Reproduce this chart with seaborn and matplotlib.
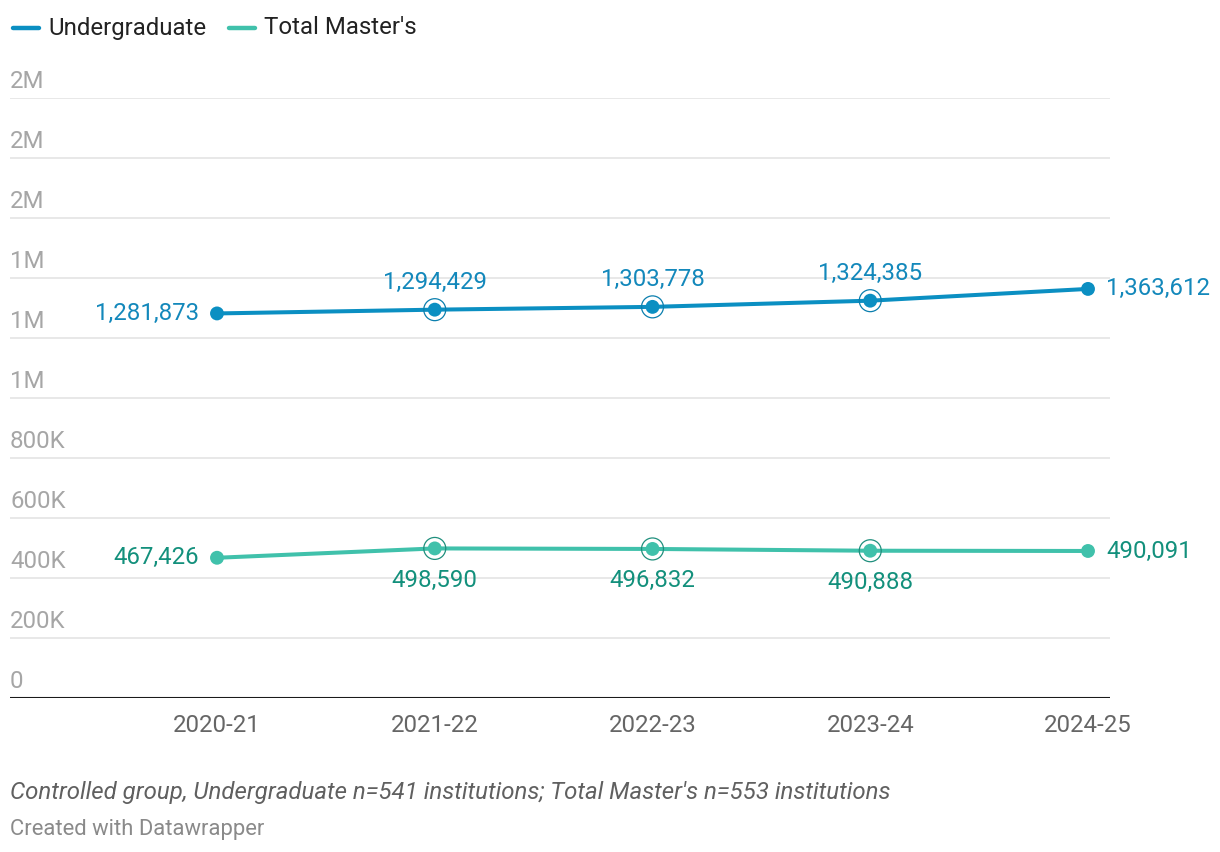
import matplotlib
matplotlib.use("Agg")
import matplotlib.pyplot as plt
import seaborn as sns
import pandas as pd
from matplotlib.transforms import offset_copy

years = ["2020-21", "2021-22", "2022-23", "2023-24", "2024-25"]
undergrad = [1281873, 1294429, 1303778, 1324385, 1363612]
masters = [467426, 498590, 496832, 490888, 490091]
series_names = ["Undergraduate", "Total Master's"]
y_ticks = [0, 200000, 400000, 600000, 800000, 1000000, 1200000, 1400000, 1600000, 1800000, 2000000]
y_tick_labels = ["0", "200K", "400K", "600K", "800K", "1M", "1M", "1M", "2M", "2M", "2M"]

sns.set_theme(style="white")
plt.rcParams['font.family'] = ['Roboto', 'DejaVu Sans']

line_colors = {"Undergraduate": "#0b8fc2", "Total Master's": "#40c1ab"}
ring_colors = {"Undergraduate": "#0b7fae", "Total Master's": "#1f8f7d"}
text_colors = {"Undergraduate": "#1388bb", "Total Master's": "#13907c"}

df = pd.DataFrame({
    "year": years * 2,
    "x": list(range(len(years))) * 2,
    "value": undergrad + masters,
    "series": [series_names[0]] * len(years) + [series_names[1]] * len(years),
})

fig = plt.figure(figsize=(12.2, 8.52), dpi=100)
W, H = 1220, 852
ax = fig.add_axes([10 / W, 154 / H, 1100 / W, 600 / H])

x0 = 217
dx = (1088 - 217) / 4
ax.set_xlim((10 - x0) / dx, 4 + (1110 - 1088) / dx)
ax.set_ylim(0, 2000000)

for t in y_ticks[1:]:
    ax.axhline(t, color="#e2e2e2", lw=1.1, zorder=0)
ax.axhline(0, color="#1a1a1a", lw=1.5, zorder=1)

sns.lineplot(data=df, x="x", y="value", hue="series", palette=line_colors,
             lw=2.9, ax=ax, legend=False, zorder=3)
sns.scatterplot(data=df, x="x", y="value", hue="series", palette=line_colors,
                s=100, linewidth=0, ax=ax, legend=False, zorder=4)
mid = df[df["x"].between(1, 3)]
for name in series_names:
    sub = mid[mid["series"] == name]
    ax.scatter(sub["x"], sub["value"], s=250, facecolors="none",
               edgecolors=ring_colors[name], linewidths=0.9, zorder=4)

FS = 17.3
for name, vals, above in [(series_names[0], undergrad, True), (series_names[1], masters, False)]:
    c = text_colors[name]
    for i, v in enumerate(vals):
        lab = f"{v:,}"
        if i == 0:
            ax.annotate(lab, (i, v), xytext=(-13, 0), textcoords="offset points",
                        ha="right", va="center", fontsize=FS, color=c)
        elif i == len(vals) - 1:
            ax.annotate(lab, (i, v), xytext=(13, 0), textcoords="offset points",
                        ha="left", va="center", fontsize=FS, color=c)
        else:
            ax.annotate(lab, (i, v), xytext=(0, 19.5 if above else -23), textcoords="offset points",
                        ha="center", va="center", fontsize=FS, color=c, zorder=5)

ax.set_yticks([])
ax.set_xticks(range(len(years)))
ax.set_xticklabels(years, fontsize=FS, color="#666666")
ax.tick_params(axis="x", length=0, pad=11.5)
ytrans = offset_copy(ax.get_yaxis_transform(), fig=fig, x=0, y=7.5, units="points")
for t, lab in zip(y_ticks, y_tick_labels):
    ax.text(0, t, lab, transform=ytrans, ha="left", va="baseline",
            fontsize=FS, color="#a6a6a6")
ax.set_xlabel("")
ax.set_ylabel("")
for s in ax.spines.values():
    s.set_visible(False)

# legend
ly = 1 - 28 / H
fig.lines.append(plt.Line2D([13 / W, 39 / W], [ly, ly], transform=fig.transFigure,
                            color=line_colors[series_names[0]], lw=3.2, solid_capstyle="round"))
fig.text(48 / W, ly, series_names[0], ha="left", va="center", fontsize=FS, color="#222222")
fig.lines.append(plt.Line2D([229 / W, 255 / W], [ly, ly], transform=fig.transFigure,
                            color=line_colors[series_names[1]], lw=3.2, solid_capstyle="round"))
fig.text(264 / W, ly, series_names[1], ha="left", va="center", fontsize=FS, color="#222222")

fig.text(10 / W, 1 - 792 / H,
         "Controlled group, Undergraduate n=541 institutions; Total Master's n=553 institutions",
         ha="left", va="center", fontsize=FS, style="italic", color="#606060")
fig.text(10 / W, 1 - 829 / H, "Created with Datawrapper", ha="left", va="center",
         fontsize=15.8, color="#8a8a8a")

fig.savefig("out.png", dpi=100)
